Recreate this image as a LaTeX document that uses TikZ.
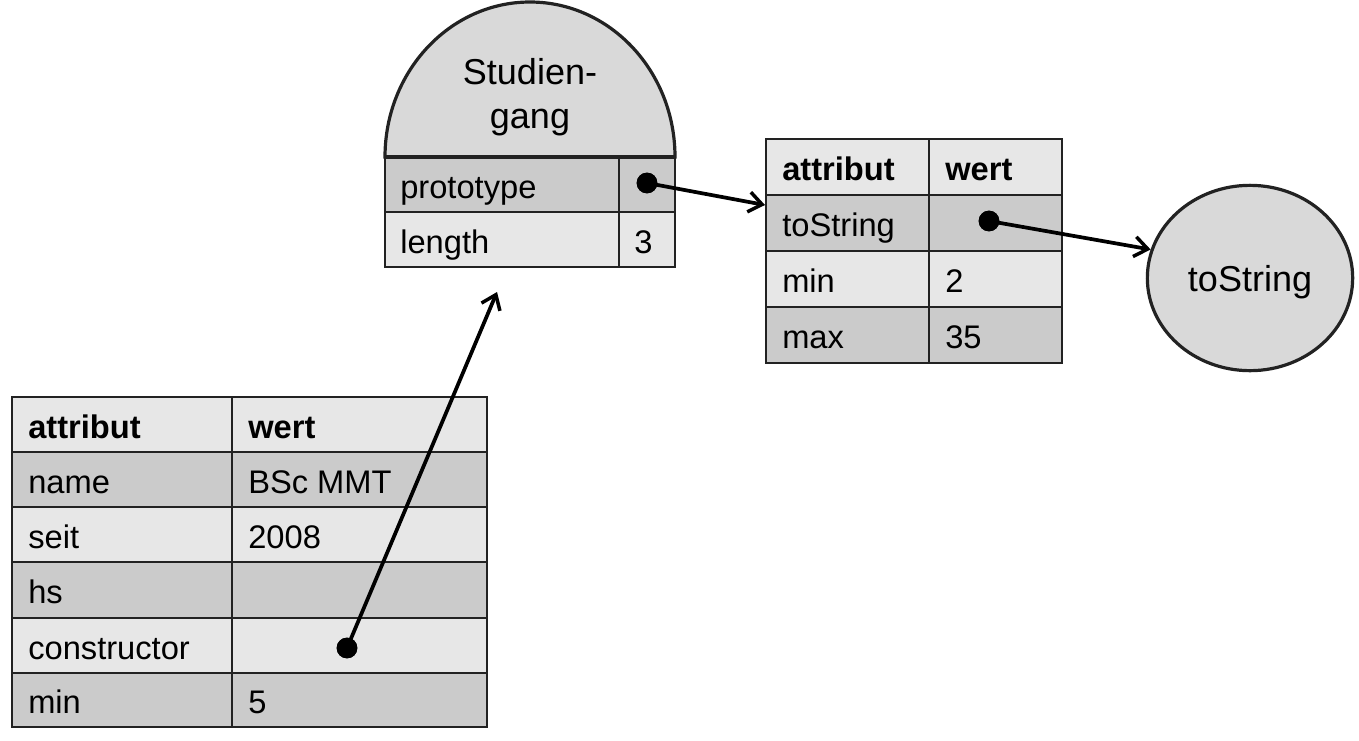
\documentclass[tikz,border=0pt]{standalone}
\usepackage{fontspec}
\setmainfont{Liberation Sans}
\usetikzlibrary{arrows.meta,shapes.geometric}
\definecolor{lite}{HTML}{E7E7E7}
\definecolor{dark}{HTML}{CBCBCB}
\definecolor{domefill}{HTML}{D9D9D9}
\definecolor{ink}{HTML}{222222}
\begin{document}
\begin{tikzpicture}[x=0.75pt,y=-0.75pt,
  cellbox/.style={draw=ink, line width=1.5pt},
  celltext/.style={anchor=base west, inner sep=0pt, font=\fontsize{24.5}{29}\selectfont},
  dotmark/.style={circle, fill=black, draw=none, inner sep=0pt, minimum size=15.5pt},
  ptr/.style={line width=2.8pt, draw=black, -{Straight Barb[length=10pt,width=15pt,line width=2.6pt]}},
  shapeline/.style={draw=ink, line width=2.4pt}]
\useasboundingbox (0,0) rectangle (1359,740);
% ---- Studiengang object ----
\filldraw[shapeline, fill=domefill] (385,157) arc[start angle=180, end angle=360, x radius=145, y radius=155] -- cycle;
\node[align=center, inner sep=0pt, font=\fontsize{27}{33}\selectfont] (dome) at (530,97) {Studien-\\gang};
\filldraw[cellbox, fill=dark] (385,157) rectangle (619,212);
\filldraw[cellbox, fill=dark] (619,157) rectangle (675,212);
\filldraw[cellbox, fill=lite] (385,212) rectangle (619,267);
\filldraw[cellbox, fill=lite] (619,212) rectangle (675,267);
\draw[shapeline] (385,157) -- (675,157);
\node[celltext] (sg-proto) at (400,198) {prototype};
\node[celltext] (sg-len) at (400,253) {length};
\node[celltext] (sg-lenv) at (634,253) {3};
% ---- prototype table ----
\foreach \ya/\yb/\f/\a/\b/\n in {139/195/lite/{\textbf{attribut}}/{\textbf{wert}}/1,
    195/251/dark/toString//2, 251/307/lite/min/2/3, 307/363/dark/max/35/4}{
  \filldraw[cellbox, fill=\f] (766,\ya) rectangle (929,\yb);
  \filldraw[cellbox, fill=\f] (929,\ya) rectangle (1062,\yb);
  \node[celltext] (p-\n-a) at (782,{(\ya+\yb)/2+13.5}) {\a};
  \node[celltext] (p-\n-b) at (945,{(\ya+\yb)/2+13.5}) {\b};
}
% ---- instance table ----
\foreach \ya/\yb/\f/\a/\b/\n in {397/452/lite/{\textbf{attribut}}/{\textbf{wert}}/1,
    452/507/dark/name/BSc MMT/2, 507/562/lite/seit/2008/3, 562/618/dark/hs//4,
    618/673/lite/constructor//5, 673/727/dark/min/5/6}{
  \filldraw[cellbox, fill=\f] (12,\ya) rectangle (232,\yb);
  \filldraw[cellbox, fill=\f] (232,\ya) rectangle (487,\yb);
  \node[celltext] (i-\n-a) at (28,{(\ya+\yb)/2+13.5}) {\a};
  \node[celltext] (i-\n-b) at (248,{(\ya+\yb)/2+13.5}) {\b};
}
% ---- function object ----
\node[ellipse, shapeline, line width=2.4pt, fill=domefill, minimum width=154pt, minimum height=139pt,
  inner sep=0pt, text depth=0pt, font=\fontsize{27}{30}\selectfont] (ts) at (1250,278) {toString};
% ---- pointers ----
\node[dotmark] (d-proto) at (647,183) {};
\node[dotmark] (d-ts) at (989,221) {};
\node[dotmark] (d-con) at (347,648) {};
\coordinate (p-in) at (765,205);
\coordinate (sg-in) at (497,292);
\draw[ptr] (d-proto.center) -- (p-in);
\draw[ptr] (d-ts.center) -- (ts.164);
\draw[ptr] (d-con.center) -- (sg-in);
\node[dotmark] at (d-proto) {};
\node[dotmark] at (d-ts) {};
\node[dotmark] at (d-con) {};
\end{tikzpicture}
\end{document}
